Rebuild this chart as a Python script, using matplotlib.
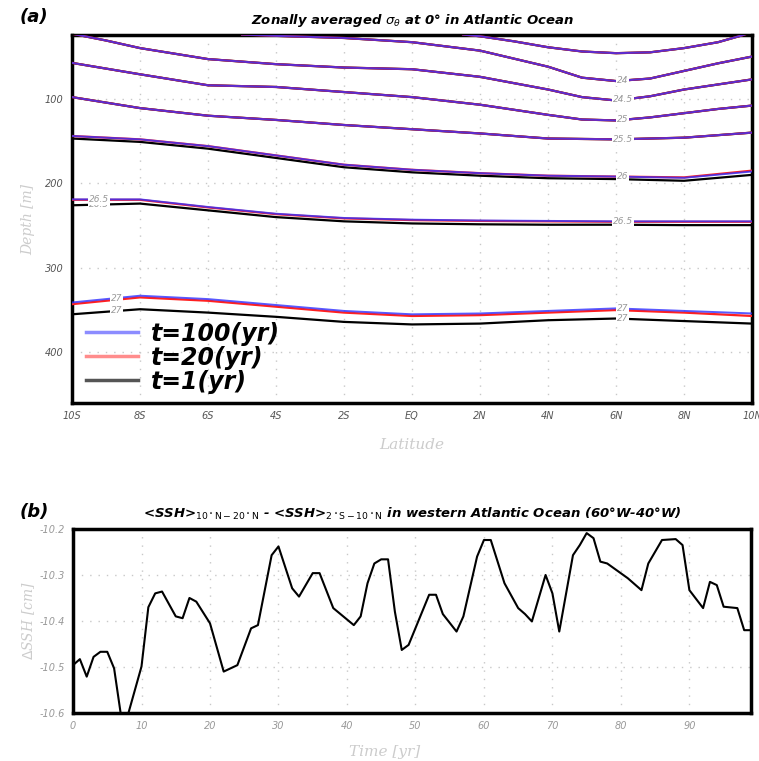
import numpy as np
import matplotlib
matplotlib.use("Agg")
import matplotlib.pyplot as plt
from matplotlib.lines import Line2D

# ---- panel (a): isopycnal depths (m) vs latitude, three model times ----
lat = [-10, -8, -6, -4, -2, 0, 2, 4, 6, 8, 10]

lat_235 = [1.5, 2, 3, 4, 5, 6, 7, 8, 9, 9.7, 10]
dep_235 = [24, 26, 32, 39, 44, 46, 45, 40, 33, 25, 21]

lat_24 = [-5, -4, -2, 0, 2, 4, 5, 6, 7, 8, 9, 10]
dep_24 = [24, 25.5, 28, 33, 43, 62, 75, 79, 76, 67, 58, 50]

lat_245 = [-10, -9, -8, -6, -4, -2, 0, 2, 4, 5, 6, 7, 8, 9, 10]
dep_245 = [23, 31, 40, 53, 59, 63, 65, 74, 89, 98, 102, 97, 89, 83, 77]

lat_25 = [-10, -8, -6, -4, -2, 0, 2, 4, 5, 6, 7, 8, 9, 10]
dep_25 = [57.5, 71, 84, 86, 92, 98, 107, 119, 124.5, 125.6, 122, 117, 112, 108]

dep_255 = [98, 111, 120, 125, 131, 136, 141, 147, 148, 146, 140]

dep100_26 = [144, 148, 156, 167, 178, 184, 188, 191, 192, 193.5, 186]
dep20_26 = [144, 148, 156, 167, 178, 184, 188, 191, 192, 193, 185]
dep1_26 = [147, 151, 159, 170, 181, 187, 191, 194, 195, 197, 190]

dep100_265 = [219, 219, 228, 236, 241, 243, 244, 244.5, 245, 245, 245]
dep20_265 = [219.5, 219.5, 228.5, 236.5, 241.5, 243.5, 244.5, 245, 245.5, 245.5, 245.5]
dep1_265 = [226, 224, 232, 240, 245, 247.5, 248.5, 249, 249, 249.5, 249.5]

dep100_27 = [341, 333, 337, 344, 351, 355, 354, 351, 348, 351, 354]
dep20_27 = [343, 335, 339, 346, 353, 357, 356, 353, 350, 353, 357]
dep1_27 = [355, 349, 353, 358, 364, 367, 366, 362, 360, 363, 366]

lat_ticks = [-10, -8, -6, -4, -2, 0, 2, 4, 6, 8, 10]
lat_labels = ["10S", "8S", "6S", "4S", "2S", "EQ", "2N", "4N", "6N", "8N", "10N"]

# ---- panel (b): SSH difference time series ----
year = [0, 1, 2, 3, 4, 5, 6, 7, 8, 10, 11, 12, 13, 15, 16, 17, 18, 20, 22, 24,
        26, 27, 29, 30, 32, 33, 35, 36, 38, 41, 42, 43, 44, 45, 46, 47, 48, 49,
        52, 53, 54, 56, 57, 59, 60, 61, 63, 65, 66, 67, 69, 70, 71, 73, 74, 75,
        76, 77, 78, 81, 83, 84, 86, 88, 89, 90, 92, 93, 94, 95, 97, 98, 99]
dssh = [-10.496, -10.483, -10.521, -10.478, -10.467, -10.467, -10.503, -10.605,
        -10.605, -10.499, -10.37, -10.34, -10.336, -10.39, -10.394, -10.35,
        -10.358, -10.405, -10.51, -10.496, -10.416, -10.409, -10.257, -10.238,
        -10.329, -10.347, -10.296, -10.296, -10.372, -10.409, -10.39, -10.318,
        -10.275, -10.266, -10.266, -10.38, -10.463, -10.452, -10.343, -10.343,
        -10.385, -10.423, -10.39, -10.26, -10.224, -10.224, -10.318, -10.372,
        -10.385, -10.401, -10.30, -10.34, -10.423, -10.257, -10.235, -10.209,
        -10.22, -10.271, -10.275, -10.307, -10.333, -10.275, -10.224, -10.222,
        -10.235, -10.333, -10.372, -10.315, -10.322, -10.369, -10.372, -10.42,
        -10.42]

blue, red = "#3030ff", "#ff2020"
grey_lab = "#999999"

fig = plt.figure(figsize=(7.59, 7.61), dpi=100)
ax1 = fig.add_axes([0.0949, 0.4704, 0.896, 0.4836])
ax2 = fig.add_axes([0.0962, 0.0631, 0.8933, 0.2418])

# draw the isolines: black (t=1), red (t=20), blue (t=100) on top
def iso(x, d1, d20, d100):
    ax1.plot(x, d1, color="k", lw=1.6, zorder=2)
    ax1.plot(x, d20, color=red, lw=1.6, zorder=3)
    ax1.plot(x, d100, color=blue, lw=1.4, alpha=0.8, zorder=4)

iso(lat_235, dep_235, dep_235, dep_235)
iso(lat_24, dep_24, dep_24, dep_24)
iso(lat_245, dep_245, dep_245, dep_245)
iso(lat_25, dep_25, dep_25, dep_25)
iso(lat, dep_255, dep_255, dep_255)
iso(lat, dep1_26, dep20_26, dep100_26)
iso(lat, dep1_265, dep20_265, dep100_265)
iso(lat, dep1_27, dep20_27, dep100_27)

def clabel(x, xs, ds, txt):
    y = np.interp(x, xs, ds)
    ax1.text(x, y, txt, color=grey_lab, fontsize=6.5, style="italic",
             ha="center", va="center", zorder=6,
             bbox=dict(facecolor="white", edgecolor="none", pad=0.6))

clabel(6.2, lat_24, dep_24, "24")
clabel(6.2, lat_245, dep_245, "24.5")
clabel(6.2, lat_25, dep_25, "25")
clabel(6.2, lat, dep_255, "25.5")
clabel(6.2, lat, dep1_26, "26")
clabel(6.2, lat, dep100_26, "26")
clabel(6.2, lat, dep1_265, "26.5")
clabel(6.2, lat, dep100_265, "26.5")
clabel(6.2, lat, dep1_27, "27")
clabel(6.2, lat, dep100_27, "27")
clabel(-9.2, lat, dep1_265, "26.5")
clabel(-9.2, lat, dep100_265, "26.5")
clabel(-8.7, lat, dep1_27, "27")
clabel(-8.7, lat, dep100_27, "27")

ax1.set_xlim(-10, 10)
ax1.set_ylim(460, 24.5)
ax1.set_xticks(lat_ticks)
ax1.set_xticklabels(lat_labels)
ax1.set_yticks([100, 200, 300, 400])
ax1.tick_params(labelsize=7, colors="#555555", length=0, pad=6)
for t in ax1.get_xticklabels() + ax1.get_yticklabels():
    t.set_style("italic")
ax1.grid(True, color="#c8c8c8", linestyle=(0, (1, 5)), lw=1)
ax1.set_xlabel("Latitude", color="#cccccc", fontsize=11, style="italic",
               family="DejaVu Serif", labelpad=12)
ax1.set_ylabel("Depth [m]", color="#cccccc", fontsize=10, style="italic",
               family="DejaVu Serif", labelpad=7)
ax1.set_title(r"Zonally averaged $\sigma_{\theta}$ at 0° in Atlantic Ocean",
              fontsize=9.5, style="italic", weight="bold", pad=8)

handles = [Line2D([], [], color="#8c8cff", lw=2.5),
           Line2D([], [], color="#ff8c8c", lw=2.5),
           Line2D([], [], color="#555555", lw=2.5)]
ax1.legend(handles, ["t=100(yr)", "t=20(yr)", "t=1(yr)"], loc="lower left",
           bbox_to_anchor=(0.007, 0.0), borderaxespad=0, frameon=False,
           handlelength=2.2, handletextpad=0.55, labelspacing=0.0,
           prop=dict(size=17, style="italic", weight="bold"))

# panel (b)
ax2.plot(year, dssh, color="k", lw=1.5)
ax2.set_xlim(0, 99)
ax2.set_ylim(-10.6, -10.2)
ax2.set_xticks(range(0, 100, 10))
ax2.set_yticks([-10.6, -10.5, -10.4, -10.3, -10.2])
ax2.set_yticklabels(["-10.6", "-10.5", "-10.4", "-10.3", "-10.2"])
ax2.tick_params(labelsize=7, colors="#999999", length=0, pad=6)
for t in ax2.get_xticklabels() + ax2.get_yticklabels():
    t.set_style("italic")
ax2.grid(True, color="#c8c8c8", linestyle=(0, (1, 5)), lw=1)
ax2.set_xlabel("Time [yr]", color="#cccccc", fontsize=11, style="italic",
               family="DejaVu Serif", labelpad=10, x=0.46)
ax2.set_ylabel(r"$\Delta$SSH [cm]", color="#cccccc", fontsize=10,
               style="italic", family="DejaVu Serif", labelpad=2)
ax2.set_title(r"<SSH>$_{\rm 10^\circ N-20^\circ N}$ - <SSH>$_{\rm 2^\circ S-10^\circ N}$"
              r" in western Atlantic Ocean (60°W-40°W)",
              fontsize=9.5, style="italic", weight="bold", pad=8)

for ax in (ax1, ax2):
    for s in ax.spines.values():
        s.set_linewidth(2.5)

fig.text(0.026, 0.978, "(a)", fontsize=13, style="italic", weight="bold",
         va="center")
fig.text(0.026, 0.327, "(b)", fontsize=13, style="italic", weight="bold",
         va="center")

fig.savefig("out.png", dpi=100)
